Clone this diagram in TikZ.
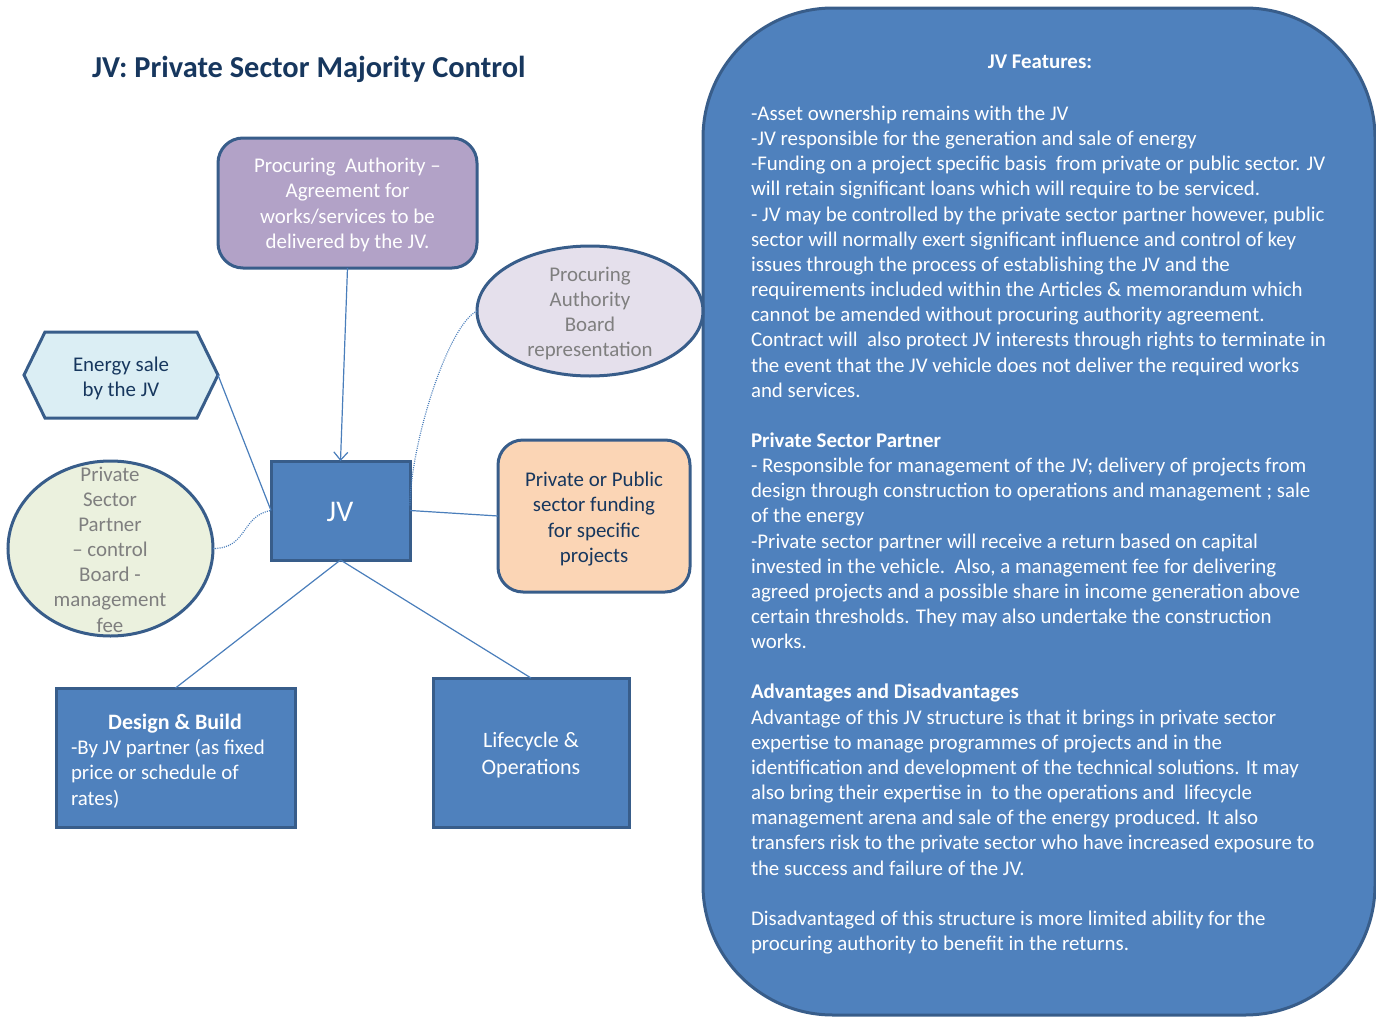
\documentclass[tikz,border=0pt]{standalone}
\usepackage{fontspec}
\setmainfont{Carlito}
\usetikzlibrary{shapes.geometric,arrows.meta}
\definecolor{panelblue}{HTML}{4F81BD}
\definecolor{edgeblue}{HTML}{385D8A}
\definecolor{linkblue}{HTML}{4A7EBB}
\definecolor{purplefill}{HTML}{B2A2C7}
\definecolor{lavfill}{HTML}{E5E0EC}
\definecolor{hexfill}{HTML}{DBEEF4}
\definecolor{greenfill}{HTML}{EBF1DE}
\definecolor{orangefill}{HTML}{FBD5B5}
\definecolor{darktext}{HTML}{17375E}
\definecolor{greytext}{HTML}{7F7F7F}
\begin{document}
\begin{tikzpicture}[x=0.5pt,y=-0.5pt,
  every node/.style={inner sep=0pt, outer sep=0pt},
  bodyfont/.style={font=\fontsize{10.45}{12.575}\selectfont},
  shapeedge/.style={draw=edgeblue, line width=1.5pt},
  bluebox/.style={shapeedge, fill=panelblue, text=white, rectangle},
  roundbox/.style={shapeedge, rectangle, rounded corners=12.5pt},
  ovalshape/.style={shapeedge, ellipse},
  link/.style={draw=linkblue, line width=0.6pt},
  dotlink/.style={draw=linkblue, line width=0.6pt, dash pattern=on 0.5pt off 0.6pt},
]
\useasboundingbox (0,0) rectangle (1376,1017);

% title
\node[anchor=west, font=\fontsize{15.2}{18}\selectfont\bfseries, text=darktext] (title) at (92,69) {JV: Private Sector Majority Control};

% right panel
\draw[shapeedge, fill=panelblue, rounded corners=65pt] (703,8) rectangle (1375,1015);
\node[font=\fontsize{10.45}{12}\selectfont\bfseries, text=white] (feat) at (1040,62) {JV Features:};
\node[bodyfont, text=white, anchor=north west, align=left] (paneltext) at (751,106) {%
-Asset ownership remains with the JV\\
-JV responsible for the generation and sale of energy\\
-Funding on a project specific basis\ \ from private or public sector. JV\\
will retain significant loans which will require to be serviced.\\
- JV may be controlled by the private sector partner however, public\\
sector will normally exert significant influence and control of key\\
issues through the process of establishing the JV and the\\
requirements included within the Articles \& memorandum which\\
cannot be amended without procuring authority agreement.\\
Contract will\ \ also protect JV interests through rights to terminate in\\
the event that the JV vehicle does not deliver the required works\\
and services.\\[12.575pt]
\textbf{Private Sector Partner}\\
- Responsible for management of the JV; delivery of projects from\\
design through construction to operations and management ; sale\\
of the energy\\
-Private sector partner will receive a return based on capital\\
invested in the vehicle.\ \ Also, a management fee for delivering\\
agreed projects and a possible share in income generation above\\
certain thresholds. They may also undertake the construction\\
works.\\[12.575pt]
\textbf{Advantages and Disadvantages}\\
Advantage of this JV structure is that it brings in private sector\\
expertise to manage programmes of projects and in the\\
identification and development of the technical solutions. It may\\
also bring their expertise in\ \ to the operations and\ \ lifecycle\\
management arena and sale of the energy produced. It also\\
transfers risk to the private sector who have increased exposure to\\
the success and failure of the JV.\\[12.575pt]
Disadvantaged of this structure is more limited ability for the\\
procuring authority to benefit in the returns.};

% purple box
\node[roundbox, fill=purplefill, minimum width=129.5pt, minimum height=65pt] (pa) at (347.5,203) {};
\node[bodyfont, text=white, align=center] (patext) at (347.5,205)
  {Procuring\ \ Authority --\\Agreement for\\works/services to be\\delivered by the JV.};

% lavender ellipse
\node[ovalshape, fill=lavfill, minimum width=113pt, minimum height=65pt] (pab) at (590,311) {};
\node[bodyfont, text=greytext, align=center] (pabtext) at (590,313.5) {Procuring\\Authority\\Board\\representation};

% hexagon
\coordinate (hexR) at (218,375);
\draw[shapeedge, fill=hexfill] (24,375) -- (45,332) -- (197,332) -- (hexR) -- (197,418) -- (45,418) -- cycle;
\node[bodyfont, text=darktext, align=center] (hex) at (121,378) {Energy sale\\by the JV};

% green ellipse
\node[ovalshape, fill=greenfill, minimum width=102.5pt, minimum height=87.5pt] (psp) at (110.5,548.5) {};
\node[bodyfont, text=greytext, align=center] (psptext) at (110,549.5) {Private\\Sector\\Partner\\-- control\\Board -\\management\\fee};

% JV box
\node[bluebox, minimum width=69.5pt, minimum height=49.5pt] (jv) at (340.5,510.5) {};
\node[font=\fontsize{15}{18}\selectfont, text=white] (jvtext) at (340,512) {JV};

% orange box
\node[roundbox, fill=orangefill, minimum width=96pt, minimum height=76pt] (fund) at (594,516) {};
\node[bodyfont, text=darktext, align=center] (fundtext) at (594,519)
  {Private or Public\\sector funding\\for specific\\projects};

% design & build
\node[bluebox, minimum width=119.5pt, minimum height=69.5pt] (db) at (175.5,757.5) {};
\node[bodyfont, text=white, anchor=west, align=left] (dbtext) at (71,761)
  {\makebox[104pt][c]{\bfseries\fontsize{11}{12.575}\selectfont Design \& Build}\\-By JV partner (as fixed\\price or schedule of\\rates)};

% lifecycle
\node[bluebox, minimum width=98pt, minimum height=74.5pt] (lo) at (531,752.5) {};
\node[font=\fontsize{11}{13.5}\selectfont, text=white, align=center] (lotext) at (531,755.5) {Lifecycle \&\\Operations};

% connectors
\draw[link, -{Straight Barb[length=4pt,width=7pt]}] (pa.south) -- (jv.north);
\draw[link] (hexR) -- (jv.west);
\draw[dotlink] (psp.east) .. controls +(35,0) and +(-30,5) .. (jv.west);
\draw[dotlink] (pab.west) .. controls +(-30,15) and +(0,-60) .. ([yshift=2pt]jv.east);
\draw[link] (jv.east) -- (fund.west);
\draw[link] (jv.south) -- (db.north);
\draw[link] (jv.south) -- (lo.north);
\end{tikzpicture}
\end{document}
